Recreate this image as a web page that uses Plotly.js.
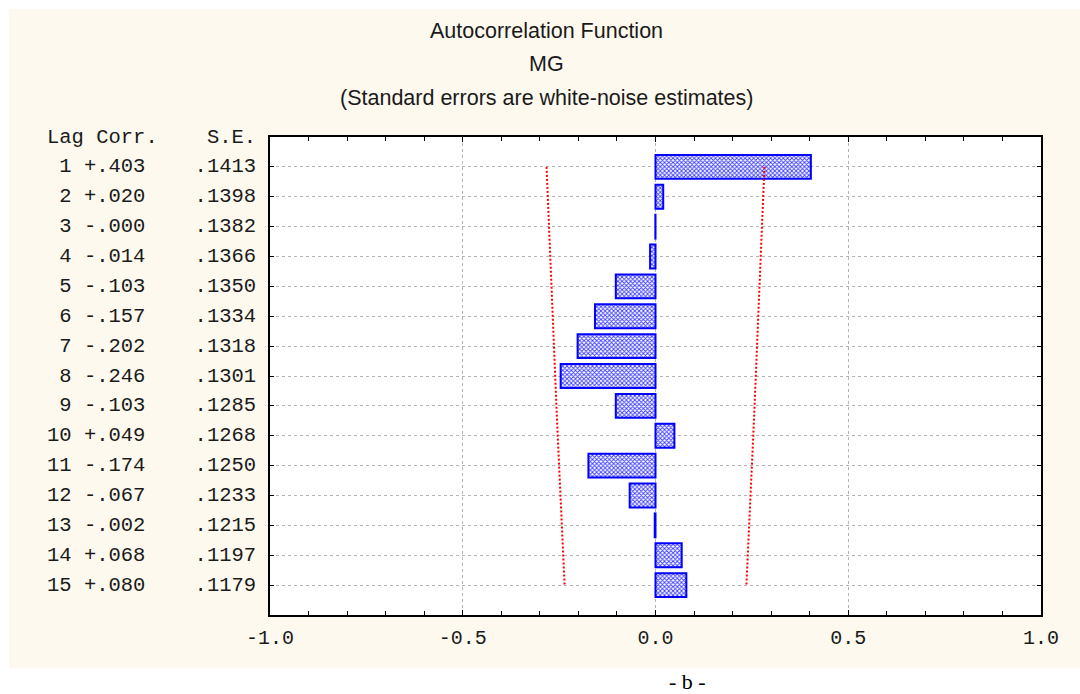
<!DOCTYPE html>
<html>
<head>
<meta charset="utf-8">
<script src="https://cdn.plot.ly/plotly-3.0.1.min.js"></script>
<style>
  html, body { margin: 0; padding: 0; background: #ffffff; }
  #chart { width: 1080px; height: 694px; }
</style>
</head>
<body>
<div id="chart"></div>
<script>
// ---- data ----
const lags = [1, 2, 3, 4, 5, 6, 7, 8, 9, 10, 11, 12, 13, 14, 15];
const corr = [0.403, 0.020, -0.0004, -0.014, -0.103, -0.157, -0.202, -0.246, -0.103, 0.049, -0.174, -0.067, -0.002, 0.068, 0.080];
const stdErr = [0.1413, 0.1398, 0.1382, 0.1366, 0.1350, 0.1334, 0.1318, 0.1301, 0.1285, 0.1268, 0.1250, 0.1233, 0.1215, 0.1197, 0.1179];
const xTickVals = [-1.0, -0.5, 0.0, 0.5, 1.0];
const xTickText = ["-1.0", "-0.5", "0.0", "0.5", "1.0"];
const titleLines = ["Autocorrelation Function", "MG", "(Standard errors are white-noise estimates)"];
const headerText = "Lag Corr.    S.E.";
const captionText = "- b -";

// confidence limits = ±2 standard errors
const upper = stdErr.map(s => 2 * s);
const lower = stdErr.map(s => -2 * s);

const NB = "\u00A0";
function fmtCorr(v) {
  const s = Math.abs(v).toFixed(3).replace(/^0/, "");
  return (v < 0 ? "-" : "+") + s;
}
function fmtSE(v) { return v.toFixed(4).replace(/^0/, ""); }
function pad(str, n) { while (str.length < n) str = NB + str; return str; }

const monoFont = "'Courier New', 'Liberation Mono', monospace";
const sansFont = "Arial, 'Liberation Sans', sans-serif";

// ---- geometry (pixels) ----
const W = 1080, H = 694;
const M = { l: 270, r: 39, t: 137, b: 79 };
const pw = W - M.l - M.r, ph = H - M.t - M.b;
const px = x => (x - M.l) / pw;
const py = y => (H - M.b - y) / ph;

const barTrace = {
  type: "bar",
  orientation: "h",
  x: corr,
  y: lags,
  width: 0.8,
  marker: {
    color: "#ffffff",
    line: { color: "#0000ff", width: 2 },
    pattern: { shape: "x", size: 3, solidity: 0.5, fgcolor: "#3c3cff", bgcolor: "#ffffff" }
  },
  hoverinfo: "skip",
  showlegend: false
};

const limitStyle = { color: "#ff0000", width: 2, dash: "2px,2px" };
const upperTrace = { type: "scatter", mode: "lines", x: upper, y: lags, line: limitStyle, hoverinfo: "skip", showlegend: false };
const lowerTrace = { type: "scatter", mode: "lines", x: lower, y: lags, line: limitStyle, hoverinfo: "skip", showlegend: false };

const annotations = [];
const rowX = px(258);
annotations.push({
  xref: "paper", yref: "y", x: rowX, y: 0, xanchor: "right", yanchor: "middle",
  text: headerText.replace(/ /g, NB), showarrow: false,
  font: { family: monoFont, size: 20.5, color: "#1a1a1a" }
});
lags.forEach((lag, i) => {
  const t = pad(String(lag), 2) + NB + fmtCorr(corr[i]) + NB + NB + NB + NB + fmtSE(stdErr[i]);
  annotations.push({
    xref: "paper", yref: "y", x: rowX, y: lag, xanchor: "right", yanchor: "middle",
    text: t, showarrow: false,
    font: { family: monoFont, size: 20.5, color: "#1a1a1a" }
  });
});
const titleY = [31, 64, 98];
titleLines.forEach((line, i) => {
  annotations.push({
    xref: "paper", yref: "paper", x: px(546), y: py(titleY[i]), xanchor: "center", yanchor: "middle",
    text: line, showarrow: false,
    font: { family: sansFont, size: 21.5, color: "#1a1a1a" }
  });
});
annotations.push({
  xref: "paper", yref: "paper", x: px(687), y: py(681), xanchor: "center", yanchor: "middle",
  text: captionText.replace(/ /g, NB), showarrow: false, borderpad: 0,
  font: { family: "'Times New Roman', 'Liberation Serif', serif", size: 22, color: "#000000" }
});

const layout = {
  width: W, height: H,
  margin: M,
  paper_bgcolor: "#ffffff",
  plot_bgcolor: "#ffffff",
  showlegend: false,
  xaxis: {
    range: [-1, 1],
    tickvals: xTickVals,
    ticktext: xTickText,
    ticks: "inside", ticklen: 5, tickwidth: 1, tickcolor: "#000000",
    showline: true, linecolor: "#000000", linewidth: 2, mirror: "ticks",
    showgrid: true, gridcolor: "#b4b4b4", gridwidth: 1, griddash: "dot",
    zeroline: false,
    minor: { dtick: 0.1, ticks: "inside", ticklen: 4, tickcolor: "#000000", showgrid: false },
    tickfont: { family: monoFont, size: 20, color: "#1a1a1a" },
    ticklabelstandoff: 3,
    fixedrange: true
  },
  yaxis: {
    range: [16, 0],
    tickvals: lags,
    showticklabels: false,
    ticks: "inside", ticklen: 4, tickwidth: 1, tickcolor: "#000000",
    showline: true, linecolor: "#000000", linewidth: 2, mirror: "ticks",
    showgrid: true, gridcolor: "#b4b4b4", gridwidth: 1, griddash: "dot",
    zeroline: false,
    fixedrange: true
  },
  shapes: [
    { type: "rect", xref: "paper", yref: "paper", layer: "below",
      x0: px(9), x1: px(1085), y0: py(668), y1: py(9),
      fillcolor: "#fdf9ee", line: { width: 0 } },
    { type: "rect", xref: "paper", yref: "paper", layer: "below",
      x0: 0, x1: 1, y0: 0, y1: 1,
      fillcolor: "#ffffff", line: { width: 0 } }
  ],
  annotations: annotations
};

Plotly.newPlot("chart", [barTrace, lowerTrace, upperTrace], layout, { staticPlot: true, displayModeBar: false });
</script>
</body>
</html>
